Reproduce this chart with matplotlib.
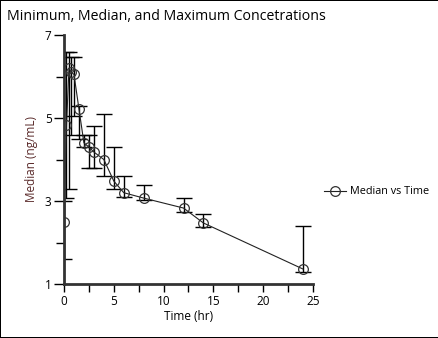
import matplotlib.pyplot as plt
from matplotlib.ticker import MultipleLocator, FixedLocator

plt.rcParams['font.family'] = ['Open Sans', 'DejaVu Sans']

# Datos: tiempos (hr) y concentraciones (ng/mL)
tiempo = [0, 0.25, 0.5, 0.75, 1, 1.5, 2, 2.5, 3, 4, 5, 6, 8, 12, 14, 24]
mediana = [2.5, 4.83, 6.2, 6.1, 6.05, 5.22, 4.4, 4.3, 4.18, 4.0, 3.48, 3.2, 3.07, 2.83, 2.47, 1.36]
minimo = [1.6, 3.07, 3.3, 4.6, 5.05, 4.5, 4.3, 3.8, 3.8, 3.6, 3.29, 3.1, 3.03, 2.73, 2.37, 1.29]
maximo = [3.0, 6.6, 6.6, 6.47, 6.47, 5.3, 4.6, 4.6, 4.8, 5.1, 4.3, 3.6, 3.39, 3.07, 2.69, 2.4]

err_inf = [m - lo for m, lo in zip(mediana, minimo)]
err_sup = [hi - m for m, hi in zip(mediana, maximo)]

fig = plt.figure(figsize=(4.39, 3.38), dpi=100)
ax = fig.add_axes([64 / 439, 1 - 284 / 338, (313 - 64) / 439, (284 - 35) / 338])

# Barras de error (min - max)
ax.errorbar(tiempo, mediana, yerr=[err_inf, err_sup], fmt='none',
            ecolor='black', elinewidth=1.0, capsize=5.5, capthick=1.0)
# Mediana vs tiempo
ax.plot(tiempo, mediana, color='#222222', linewidth=0.8, marker='o',
        markersize=7, markerfacecolor='none', markeredgecolor='#333333',
        markeredgewidth=0.9, label='Median vs Time')

ax.set_xlim(0, 25)
ax.set_ylim(1, 7)
ax.xaxis.set_major_locator(MultipleLocator(5))
ax.xaxis.set_minor_locator(MultipleLocator(2.5))
ax.yaxis.set_major_locator(FixedLocator([1, 3, 5, 7]))
ax.yaxis.set_minor_locator(FixedLocator([2, 4, 6]))

for s in ['top', 'right']:
    ax.spines[s].set_visible(False)
for s in ['left', 'bottom']:
    ax.spines[s].set_linewidth(2.0)
    ax.spines[s].set_color('#333333')

ax.tick_params(which='major', length=6, width=1, labelsize=8.5, pad=2)
ax.tick_params(which='minor', length=6, width=1)
ax.tick_params(axis='y', which='major', length=7)

ax.set_xlabel('Time (hr)', fontsize=8.5, labelpad=1)
ax.set_ylabel('Median (ng/mL)', fontsize=8.5, labelpad=5, color='#5a2a2a')

fig.text(7 / 439, 1 - 16 / 338, 'Minimum, Median, and Maximum Concetrations',
         fontsize=10.2, va='center', ha='left')

ax.legend(loc='center left', bbox_to_anchor=(1.045, 0.37), frameon=False,
          fontsize=7.8, handlelength=2.0, handletextpad=0.4, borderaxespad=0,
          borderpad=0)

# Borde de la figura
fig.patch.set_edgecolor('black')
fig.patch.set_linewidth(1.2)

plt.savefig('out.png', dpi=100, edgecolor='black')
